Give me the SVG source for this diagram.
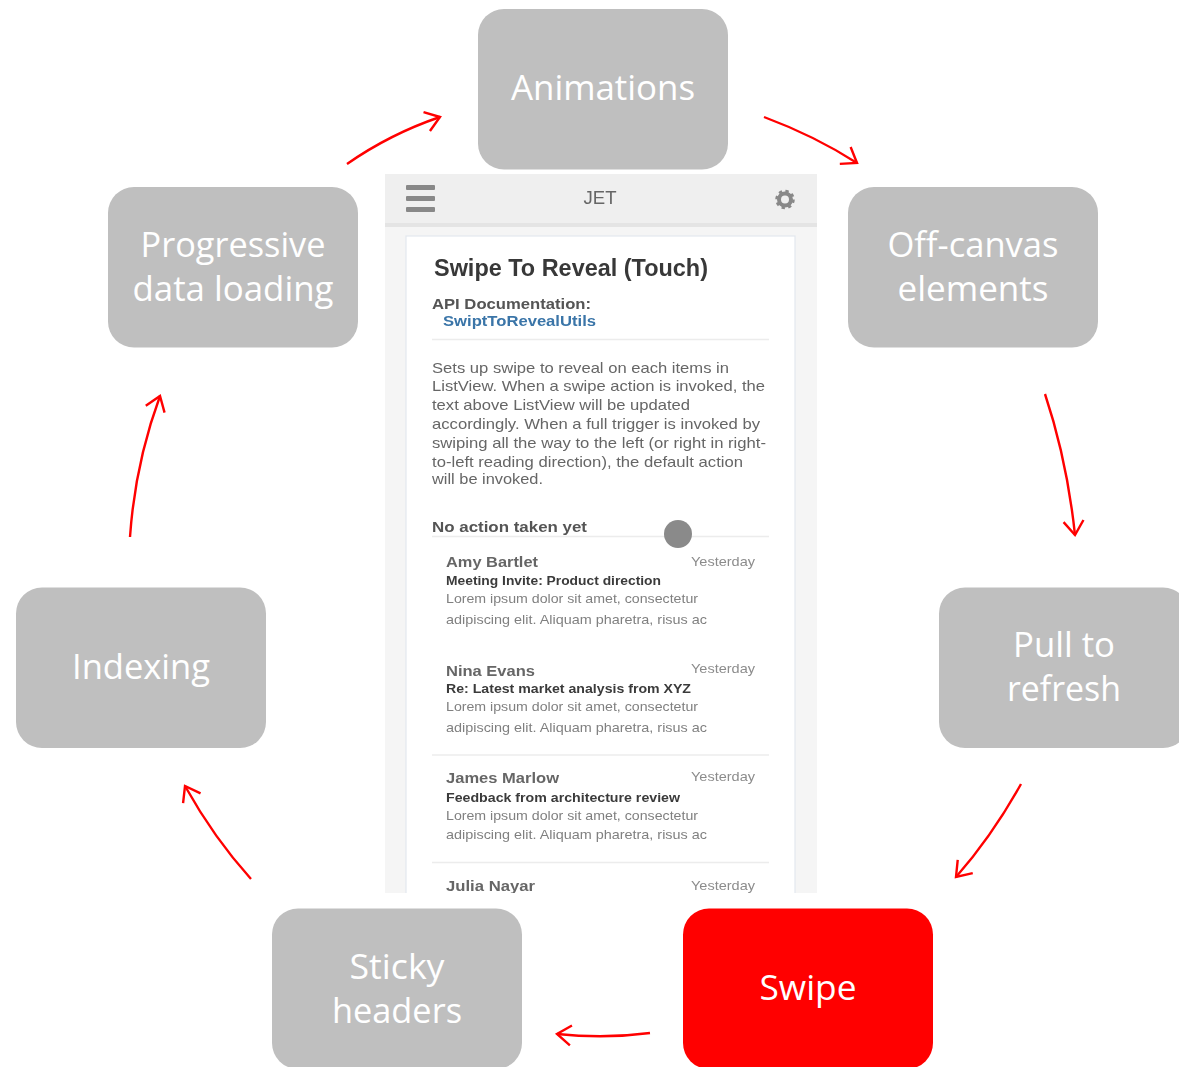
<svg xmlns="http://www.w3.org/2000/svg" width="1179" height="1067" viewBox="0 0 1179 1067">
<defs>
<style>
.box{fill:#bfbfbf}
.lbl{font-family:"Open Sans","Liberation Sans",sans-serif;font-size:34px;fill:#fff;text-anchor:middle}
.ar{fill:none;stroke:#f00;stroke-width:2.400;marker-end:url(#a)}
.ui{font-family:"Liberation Sans",Arial,sans-serif}
.body{font-size:14.5px;fill:#666}
.h{font-size:14.5px;font-weight:bold;fill:#555}
.nm{font-size:15px;font-weight:bold;fill:#666}
.sub{font-size:13px;font-weight:bold;fill:#3a3a3a}
.lo{font-size:13px;fill:#808080}
.dt{font-size:13px;fill:#8c8c8c}
.rule{stroke:#ececec;stroke-width:1.5}
</style>
<marker id="a" markerUnits="userSpaceOnUse" markerWidth="34" markerHeight="34" refX="23" refY="15" orient="auto">
<path d="M9 5 L23 15 L9 25" fill="none" stroke="#f00" stroke-width="2.400"/>
</marker>
<clipPath id="phone"><rect x="385" y="174" width="432" height="719"/></clipPath>
<filter id="soft" x="0" y="0" width="100%" height="100%"><feGaussianBlur stdDeviation="0.45"/></filter>
</defs>
<rect width="1179" height="1067" fill="#fff"/>
<g id="phone-screen" clip-path="url(#phone)">
<g filter="url(#soft)">
<rect x="385" y="174" width="432" height="719" fill="#f5f5f5"/>
<rect x="385" y="174" width="432" height="49" fill="#efefef"/>
<rect x="385" y="223" width="432" height="4" fill="#e4e4e4"/>
<rect x="406" y="236" width="389" height="670" fill="#fff" stroke="#e3e8ee" stroke-width="1.2"/>
<rect x="406" y="185" width="29" height="5" rx="1" fill="#888"/>
<rect x="406" y="196" width="29" height="5" rx="1" fill="#888"/>
<rect x="406" y="207" width="29" height="5" rx="1" fill="#888"/>
<text x="600" y="204" class="ui" font-size="19" fill="#666" text-anchor="middle" textLength="33" lengthAdjust="spacingAndGlyphs">JET</text>
<g id="gear">
<circle cx="785" cy="199.500" r="6" fill="none" stroke="#888" stroke-width="4"/>
<circle cx="785" cy="199.500" r="8.500" fill="none" stroke="#888" stroke-width="2.500" stroke-dasharray="3.300 3.400"/>
</g>
<text x="434" y="276" class="ui" font-size="23" font-weight="bold" fill="#383838" textLength="274" lengthAdjust="spacingAndGlyphs">Swipe To Reveal (Touch)</text>
<text x="432" y="309" class="ui h" textLength="159" lengthAdjust="spacingAndGlyphs">API Documentation:</text>
<text x="443" y="326" class="ui" font-size="14.500" font-weight="bold" fill="#3a75a8" textLength="153" lengthAdjust="spacingAndGlyphs">SwiptToRevealUtils</text>
<line x1="432" y1="339.500" x2="769" y2="339.500" class="rule"/>
<text x="432" y="373" class="ui body" textLength="297" lengthAdjust="spacingAndGlyphs">Sets up swipe to reveal on each items in</text>
<text x="432" y="391" class="ui body" textLength="333" lengthAdjust="spacingAndGlyphs">ListView. When a swipe action is invoked, the</text>
<text x="432" y="410" class="ui body" textLength="258" lengthAdjust="spacingAndGlyphs">text above ListView will be updated</text>
<text x="432" y="429" class="ui body" textLength="328" lengthAdjust="spacingAndGlyphs">accordingly. When a full trigger is invoked by</text>
<text x="432" y="448" class="ui body" textLength="334" lengthAdjust="spacingAndGlyphs">swiping all the way to the left (or right in right-</text>
<text x="432" y="467" class="ui body" textLength="311" lengthAdjust="spacingAndGlyphs">to-left reading direction), the default action</text>
<text x="432" y="484" class="ui body" textLength="111" lengthAdjust="spacingAndGlyphs">will be invoked.</text>
<text x="432" y="531.500" class="ui h" textLength="155" lengthAdjust="spacingAndGlyphs">No action taken yet</text>
<line x1="432" y1="536.500" x2="769" y2="536.500" class="rule"/>
<circle cx="678" cy="534" r="14" fill="#8a8a8a"/>
<text x="446" y="566.500" class="ui nm" textLength="92" lengthAdjust="spacingAndGlyphs">Amy Bartlet</text>
<text x="691" y="565.500" class="ui dt" textLength="64" lengthAdjust="spacingAndGlyphs">Yesterday</text>
<text x="446" y="585" class="ui sub" textLength="215" lengthAdjust="spacingAndGlyphs">Meeting Invite: Product direction</text>
<text x="446" y="603" class="ui lo" textLength="252" lengthAdjust="spacingAndGlyphs">Lorem ipsum dolor sit amet, consectetur</text>
<text x="446" y="623.500" class="ui lo" textLength="261" lengthAdjust="spacingAndGlyphs">adipiscing elit. Aliquam pharetra, risus ac</text>
<text x="446" y="675.500" class="ui nm" textLength="89" lengthAdjust="spacingAndGlyphs">Nina Evans</text>
<text x="691" y="672.500" class="ui dt" textLength="64" lengthAdjust="spacingAndGlyphs">Yesterday</text>
<text x="446" y="693" class="ui sub" textLength="245" lengthAdjust="spacingAndGlyphs">Re: Latest market analysis from XYZ</text>
<text x="446" y="710.500" class="ui lo" textLength="252" lengthAdjust="spacingAndGlyphs">Lorem ipsum dolor sit amet, consectetur</text>
<text x="446" y="731.500" class="ui lo" textLength="261" lengthAdjust="spacingAndGlyphs">adipiscing elit. Aliquam pharetra, risus ac</text>
<line x1="432" y1="755" x2="769" y2="755" class="rule"/>
<text x="446" y="783" class="ui nm" textLength="113" lengthAdjust="spacingAndGlyphs">James Marlow</text>
<text x="691" y="780.500" class="ui dt" textLength="64" lengthAdjust="spacingAndGlyphs">Yesterday</text>
<text x="446" y="802" class="ui sub" textLength="234" lengthAdjust="spacingAndGlyphs">Feedback from architecture review</text>
<text x="446" y="820" class="ui lo" textLength="252" lengthAdjust="spacingAndGlyphs">Lorem ipsum dolor sit amet, consectetur</text>
<text x="446" y="838.500" class="ui lo" textLength="261" lengthAdjust="spacingAndGlyphs">adipiscing elit. Aliquam pharetra, risus ac</text>
<line x1="432" y1="862.500" x2="769" y2="862.500" class="rule"/>
<text x="446" y="891" class="ui nm" textLength="89" lengthAdjust="spacingAndGlyphs">Julia Nayar</text>
<text x="691" y="889.500" class="ui dt" textLength="64" lengthAdjust="spacingAndGlyphs">Yesterday</text>
</g>
</g>
<g id="connectors">
<path class="ar" d="M347 164 Q390 134 440 117"/>
<path class="ar" d="M764 117 Q815 136 857 163"/>
<path class="ar" d="M1045 394 Q1067 460 1075 535"/>
<path class="ar" d="M1021 784 Q992 836 956 877"/>
<path class="ar" d="M650 1033 Q605 1039 557 1034"/>
<path class="ar" d="M251 879 Q214 838 185 786"/>
<path class="ar" d="M130 537 Q135 464 160 396"/>
</g>
<g id="animations"><rect class="box" x="478" y="9" width="250" height="160.500" rx="26"/><text class="lbl" x="603" y="100" textLength="184" lengthAdjust="spacingAndGlyphs">Animations</text></g>
<g id="off-canvas"><rect class="box" x="848" y="187" width="250" height="160.500" rx="26"/><text class="lbl" x="973" y="257" textLength="171" lengthAdjust="spacingAndGlyphs">Off-canvas</text><text class="lbl" x="973" y="301" textLength="151" lengthAdjust="spacingAndGlyphs">elements</text></g>
<g id="pull-to-refresh"><rect class="box" x="939" y="587.500" width="250" height="160.500" rx="26"/><text class="lbl" x="1064" y="657" textLength="102" lengthAdjust="spacingAndGlyphs">Pull to</text><text class="lbl" x="1064" y="701" textLength="114" lengthAdjust="spacingAndGlyphs">refresh</text></g>
<g id="swipe"><rect x="683" y="908.500" width="250" height="160.500" rx="26" fill="#f00"/><text class="lbl" x="808" y="999.500" textLength="97" lengthAdjust="spacingAndGlyphs">Swipe</text></g>
<g id="sticky-headers"><rect class="box" x="272" y="908.500" width="250" height="160.500" rx="26"/><text class="lbl" x="397" y="978.500" textLength="95" lengthAdjust="spacingAndGlyphs">Sticky</text><text class="lbl" x="397" y="1022.500" textLength="130" lengthAdjust="spacingAndGlyphs">headers</text></g>
<g id="indexing"><rect class="box" x="16" y="587.500" width="250" height="160.500" rx="26"/><text class="lbl" x="141" y="679" textLength="138" lengthAdjust="spacingAndGlyphs">Indexing</text></g>
<g id="progressive"><rect class="box" x="108" y="187" width="250" height="160.500" rx="26"/><text class="lbl" x="233" y="257" textLength="185" lengthAdjust="spacingAndGlyphs">Progressive</text><text class="lbl" x="233" y="301" textLength="201" lengthAdjust="spacingAndGlyphs">data loading</text></g>
</svg>
